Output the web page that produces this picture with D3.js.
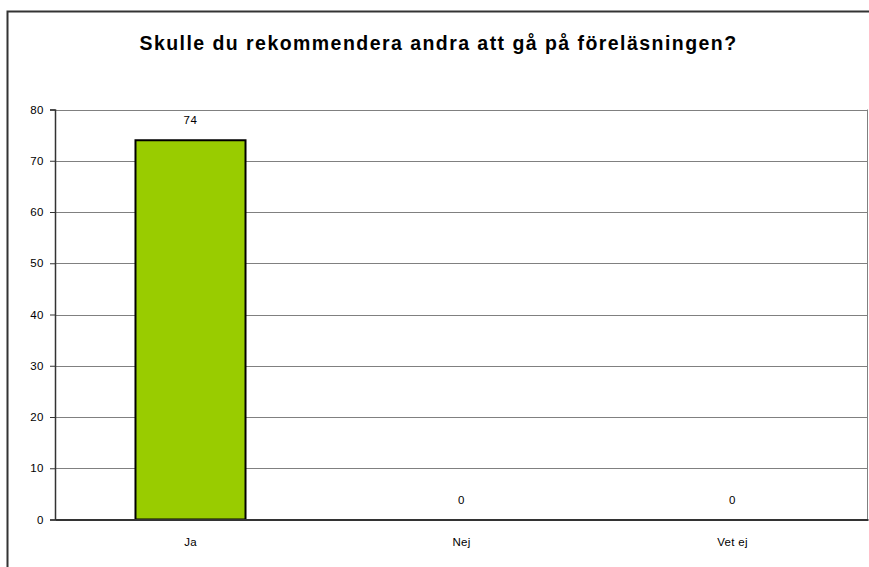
<!DOCTYPE html>
<html><head><meta charset="utf-8">
<script src="https://cdn.jsdelivr.net/npm/d3@7"></script>
<style>body{margin:0;background:#fff}svg{display:block}</style>
</head><body>
<script>
const categories = ["Ja", "Nej", "Vet ej"];
const values = [74, 0, 0];
const yTicks = [0, 10, 20, 30, 40, 50, 60, 70, 80];
const title = "Skulle du rekommendera andra att gå på föreläsningen?";

const W = 869, H = 567;
const m = {left: 55, right: 1, top: 109.5, bottom: 47.5};
const FONT = "Liberation Sans, Arial, sans-serif";
const svg = d3.select("body").append("svg").attr("width", W).attr("height", H);
svg.append("rect").attr("width", W).attr("height", H).attr("fill", "#fff");
// outer chart border
svg.append("path").attr("d", `M7.5,${H}V11.5H${W}`).attr("fill","none").attr("stroke","#333").attr("stroke-width",2);

const x = d3.scaleBand().domain(categories).range([m.left, W - m.right]).paddingInner(0.594).paddingOuter(0.297);
const y = d3.scaleLinear().domain([0, 80]).range([H - m.bottom, m.top]);
const band = d3.scaleBand().domain(categories).range([m.left, W - m.right]);

svg.append("text").attr("x", 438.5).attr("y", 49.5).attr("text-anchor","middle")
  .attr("font-family", FONT).attr("font-weight","bold")
  .attr("font-size",19.5).attr("letter-spacing", 1.45).attr("fill","#000").text(title);

// gridlines
svg.append("g").selectAll("line").data(yTicks.filter(d => d > 0)).join("line")
  .attr("x1", m.left).attr("x2", W - m.right).attr("y1", d => Math.round(y(d)) + 0.5).attr("y2", d => Math.round(y(d)) + 0.5)
  .attr("stroke","#808080").attr("stroke-width",1);
// right plot border
svg.append("line").attr("x1", W - m.right - 0.5).attr("x2", W - m.right - 0.5).attr("y1", y(80)).attr("y2", y(0))
  .attr("stroke","#808080");

// bars
svg.append("g").selectAll("rect").data(values).join("rect")
  .attr("x", (d,i) => x(categories[i])).attr("width", x.bandwidth())
  .attr("y", d => y(d)).attr("height", d => y(0) - y(d))
  .attr("fill","#99cc00").attr("stroke","#000").attr("stroke-width",2)
  .attr("display", d => d > 0 ? null : "none");

// value labels
svg.append("g").selectAll("text").data(values).join("text")
  .attr("x", (d,i) => band(categories[i]) + band.bandwidth()/2).attr("y", d => y(d) - 20)
  .attr("text-anchor","middle").attr("dominant-baseline","central")
  .attr("font-family", FONT).attr("font-size",11.5).attr("letter-spacing",0.5).attr("fill","#000")
  .text(d => d);

// y axis
const yAxis = svg.append("g").attr("transform", `translate(${m.left},0)`)
  .call(d3.axisLeft(y).tickValues(yTicks).tickSize(5).tickPadding(6).tickFormat(d3.format("d")));
yAxis.select(".domain").attr("stroke","#333").attr("stroke-width",1.5);
yAxis.selectAll(".tick line").attr("stroke","#333");
yAxis.selectAll("text").attr("font-family", FONT).attr("font-size",11.5).attr("letter-spacing",0.5).attr("fill","#000");

// x axis
const xAxis = svg.append("g").attr("transform", `translate(0,${y(0)})`)
  .call(d3.axisBottom(band).tickSize(0).tickPadding(18));
xAxis.select(".domain").attr("stroke","#333").attr("stroke-width",2);
xAxis.selectAll("text").attr("font-family", FONT).attr("font-size",11.5).attr("letter-spacing",0.3).attr("fill","#000");
</script>
</body></html>
